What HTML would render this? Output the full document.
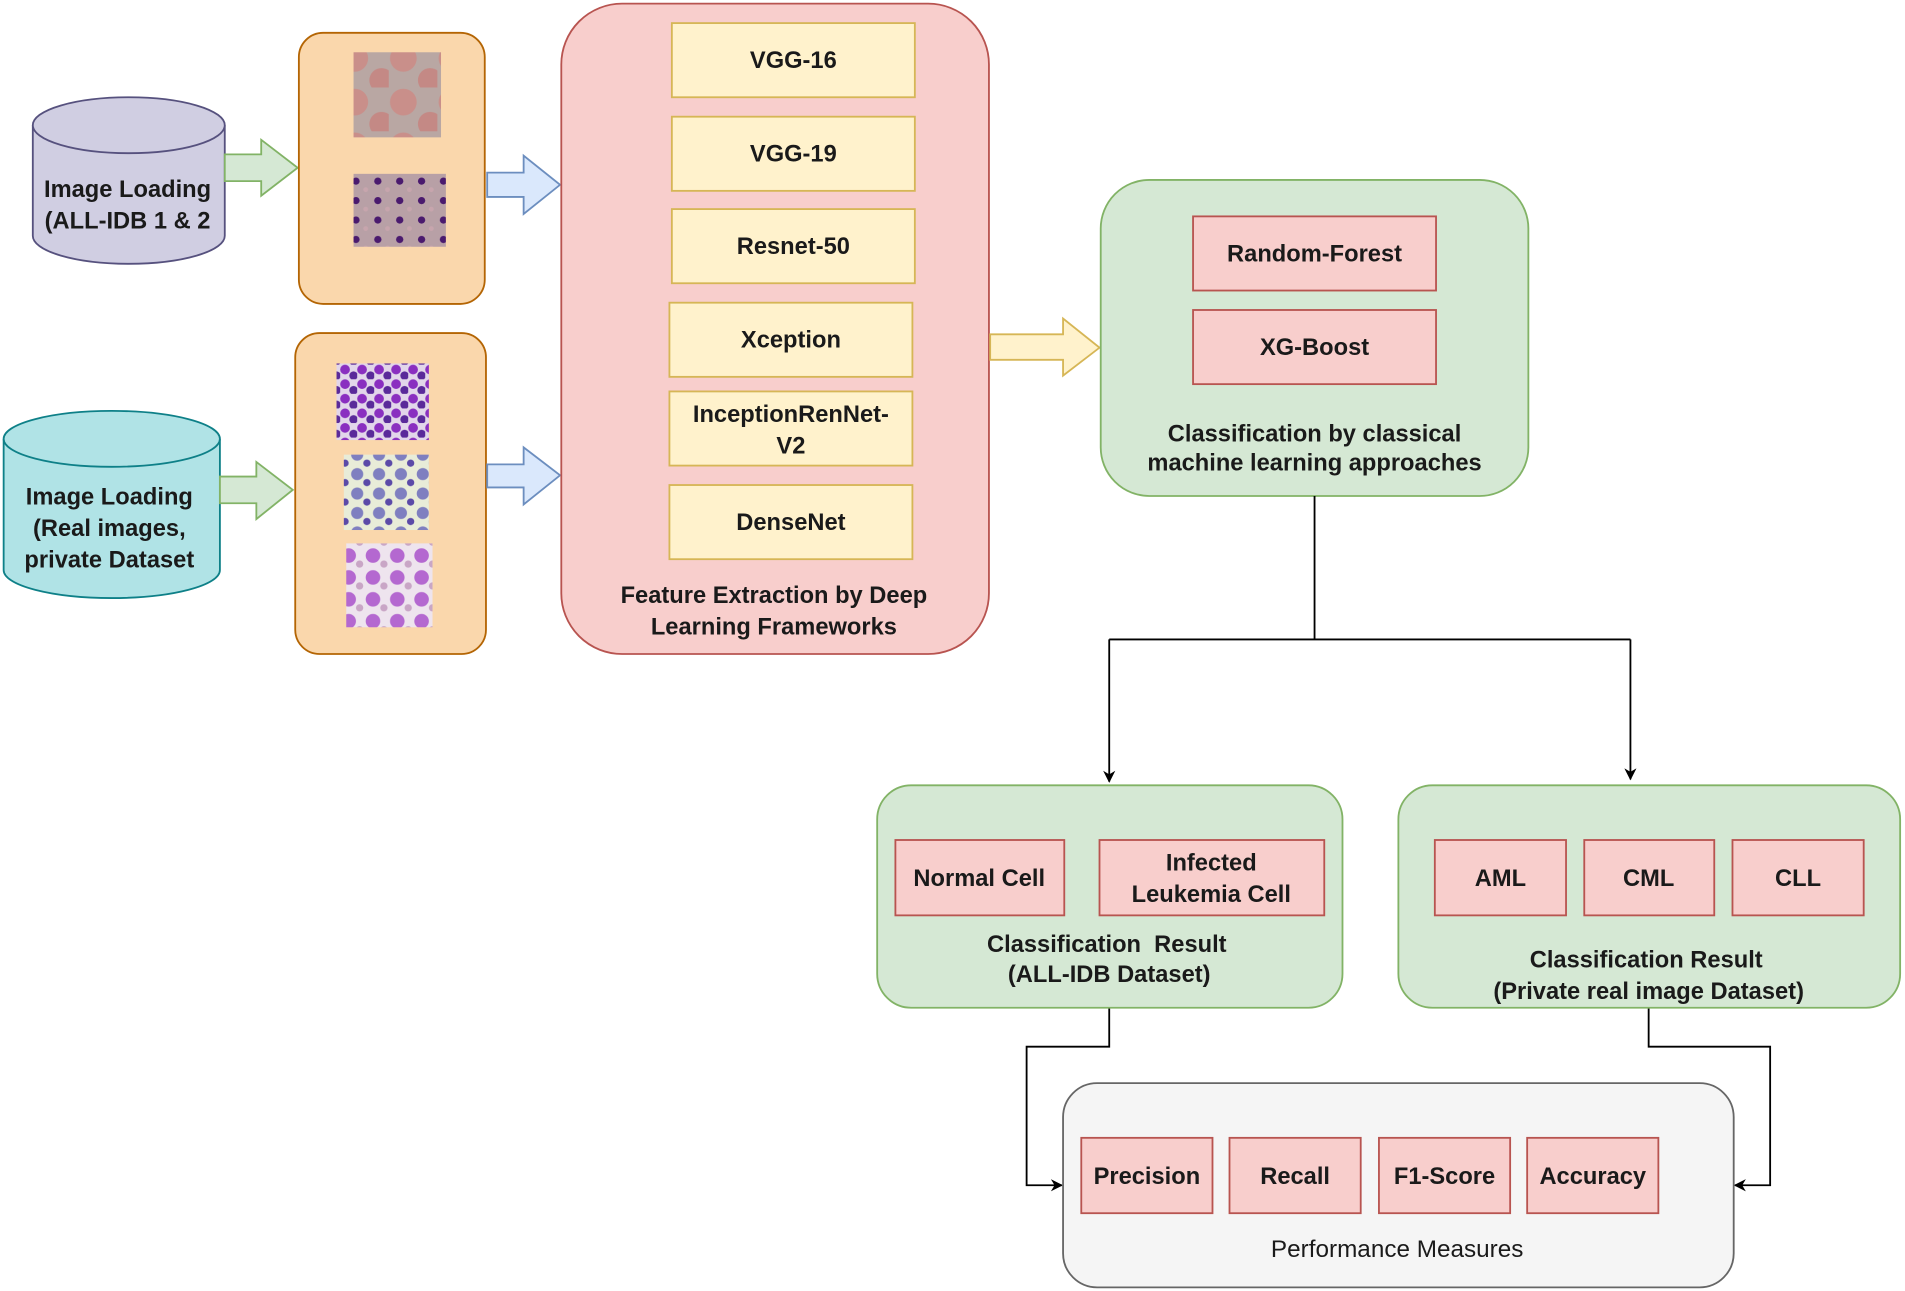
<!DOCTYPE html>
<html><head><meta charset="utf-8"><style>
html,body{margin:0;padding:0;background:#fff;}
svg{display:block;}
text{font-family:"Liberation Sans",Arial,sans-serif;font-size:19.5px;font-weight:bold;fill:#1a1a1a;text-anchor:middle;}
</style></head><body>
<svg width="1905" height="1291" viewBox="0 0 1568 1062" preserveAspectRatio="none" xmlns="http://www.w3.org/2000/svg">
<defs>
<marker id="ah" markerWidth="10" markerHeight="10" refX="9" refY="5" orient="auto" markerUnits="userSpaceOnUse">
<path d="M0,0 L10,5 L0,10 L3,5 Z" fill="#000"/></marker>
<pattern id="p1" width="40" height="36" patternUnits="userSpaceOnUse">
<rect width="40" height="36" fill="#b9a7a3"/><circle cx="12" cy="12" r="11" fill="#c98f8a"/><circle cx="34" cy="30" r="10" fill="#c48985"/></pattern>
<pattern id="p2" width="18" height="16" patternUnits="userSpaceOnUse">
<rect width="18" height="16" fill="#b8a0a6"/><circle cx="5" cy="5" r="3" fill="#4a1a6e"/><circle cx="13" cy="12" r="2" fill="#c7a5ad"/></pattern>
<pattern id="p3" width="14" height="12" patternUnits="userSpaceOnUse">
<rect width="14" height="12" fill="#e2d6ea"/><circle cx="4" cy="4" r="4" fill="#8a2fc0"/><circle cx="11" cy="9" r="3.5" fill="#5a2a9a"/></pattern>
<pattern id="p4" width="18" height="16" patternUnits="userSpaceOnUse">
<rect width="18" height="16" fill="#e8ecd8"/><circle cx="6" cy="6" r="5" fill="#7f7fc0"/><circle cx="14" cy="13" r="3" fill="#5b4aa8"/></pattern>
<pattern id="p5" width="20" height="18" patternUnits="userSpaceOnUse">
<rect width="20" height="18" fill="#eee4ee"/><circle cx="7" cy="7" r="6" fill="#b468d0"/><circle cx="16" cy="14" r="3" fill="#c9a6c6"/></pattern>
</defs>

<!-- cylinders -->
<g stroke="#56517e" stroke-width="1.5" fill="#d0cee2">
<path d="M27,103 L27,194 A79,23 0 0 0 185,194 L185,103"/>
<ellipse cx="106" cy="103" rx="79" ry="23"/>
</g>
<text x="105" y="162">Image Loading</text>
<text x="105" y="188">(ALL-IDB 1 &amp; 2</text>
<g stroke="#0e8088" stroke-width="1.5" fill="#b0e3e6">
<path d="M3,361 L3,469 A89,23 0 0 0 181,469 L181,361"/>
<ellipse cx="92" cy="361" rx="89" ry="23"/>
</g>
<text x="90" y="415">Image Loading</text>
<text x="90" y="441">(Real images,</text>
<text x="90" y="467">private Dataset</text>

<!-- green arrows -->
<g fill="#d5e8d4" stroke="#82b366" stroke-width="1.5">
<path d="M185,127 L215,127 L215,115 L245,138 L215,161 L215,149 L185,149 Z"/>
<path d="M181,392 L211,392 L211,380 L241,403 L211,427 L211,414 L181,414 Z"/>
</g>

<!-- orange boxes -->
<rect x="246" y="27" width="153" height="223" rx="20" fill="#fad7ac" stroke="#b46504" stroke-width="1.5"/>
<rect x="291" y="43" width="72" height="70" fill="url(#p1)"/>
<rect x="291" y="143" width="76" height="60" fill="url(#p2)"/>
<rect x="243" y="274" width="157" height="264" rx="20" fill="#fad7ac" stroke="#b46504" stroke-width="1.5"/>
<rect x="277" y="299" width="76" height="63" fill="url(#p3)"/>
<rect x="283" y="374" width="70" height="62" fill="url(#p4)"/>
<rect x="285" y="447" width="71" height="69" fill="url(#p5)"/>

<!-- blue arrows -->
<g fill="#dae8fc" stroke="#6c8ebf" stroke-width="1.5">
<path d="M401,142 L431,142 L431,128 L461,152 L431,176 L431,162 L401,162 Z"/>
<path d="M401,382 L431,382 L431,368 L461,391 L431,415 L431,401 L401,401 Z"/>
</g>

<!-- pink big -->
<rect x="462" y="3" width="352" height="535" rx="50" fill="#f8cecc" stroke="#b85450" stroke-width="1.5"/>
<g fill="#fff2cc" stroke="#d6b656" stroke-width="1.5">
<rect x="553" y="19" width="200" height="61"/>
<rect x="553" y="96" width="200" height="61"/>
<rect x="553" y="172" width="200" height="61"/>
<rect x="551" y="249" width="200" height="61"/>
<rect x="551" y="322" width="200" height="61"/>
<rect x="551" y="399" width="200" height="61"/>
</g>
<text x="653" y="56">VGG-16</text>
<text x="653" y="133">VGG-19</text>
<text x="653" y="209">Resnet-50</text>
<text x="651" y="286">Xception</text>
<text x="651" y="347">InceptionRenNet-</text>
<text x="651" y="373">V2</text>
<text x="651" y="436">DenseNet</text>
<text x="637" y="496">Feature Extraction by Deep</text>
<text x="637" y="522">Learning Frameworks</text>

<!-- yellow arrow -->
<path d="M815,275 L875,275 L875,262 L905,286 L875,309 L875,296 L815,296 Z" fill="#fff2cc" stroke="#d6b656" stroke-width="1.5"/>

<!-- classification green -->
<rect x="906" y="148" width="352" height="260" rx="40" fill="#d5e8d4" stroke="#82b366" stroke-width="1.5"/>
<g fill="#f8cecc" stroke="#b85450" stroke-width="1.5">
<rect x="982" y="178" width="200" height="61"/>
<rect x="982" y="255" width="200" height="61"/>
</g>
<text x="1082" y="215">Random-Forest</text>
<text x="1082" y="292">XG-Boost</text>
<text x="1082" y="363">Classification by classical</text>
<text x="1082" y="387">machine learning approaches</text>

<!-- connectors -->
<g stroke="#000" stroke-width="1.5" fill="none">
<path d="M1082,408 L1082,526 M913,526 L1342,526"/>
<path d="M913,526 L913,643" marker-end="url(#ah)"/>
<path d="M1342,526 L1342,641" marker-end="url(#ah)"/>
<path d="M913,829 L913,861 L845,861 L845,975 L874,975" marker-end="url(#ah)"/>
<path d="M1357,829 L1357,861 L1457,861 L1457,975 L1428,975" marker-end="url(#ah)"/>
</g>

<!-- result boxes -->
<rect x="722" y="646" width="383" height="183" rx="28" fill="#d5e8d4" stroke="#82b366" stroke-width="1.5"/>
<rect x="1151" y="646" width="413" height="183" rx="28" fill="#d5e8d4" stroke="#82b366" stroke-width="1.5"/>
<g fill="#f8cecc" stroke="#b85450" stroke-width="1.5">
<rect x="737" y="691" width="139" height="62"/>
<rect x="905" y="691" width="185" height="62"/>
<rect x="1181" y="691" width="108" height="62"/>
<rect x="1304" y="691" width="107" height="62"/>
<rect x="1426" y="691" width="108" height="62"/>
</g>
<text x="806" y="729">Normal Cell</text>
<text x="997" y="716">Infected</text>
<text x="997" y="742">Leukemia Cell</text>
<text x="1235" y="729">AML</text>
<text x="1357" y="729">CML</text>
<text x="1480" y="729">CLL</text>
<text x="911" y="783" xml:space="preserve">Classification  Result</text>
<text x="913" y="808">(ALL-IDB Dataset)</text>
<text x="1355" y="796">Classification Result</text>
<text x="1357" y="822">(Private real image Dataset)</text>

<!-- performance -->
<rect x="875" y="891" width="552" height="168" rx="28" fill="#f5f5f5" stroke="#666666" stroke-width="1.5"/>
<g fill="#f8cecc" stroke="#b85450" stroke-width="1.5">
<rect x="890" y="936" width="108" height="62"/>
<rect x="1012" y="936" width="108" height="62"/>
<rect x="1135" y="936" width="108" height="62"/>
<rect x="1257" y="936" width="108" height="62"/>
</g>
<text x="944" y="974">Precision</text>
<text x="1066" y="974">Recall</text>
<text x="1189" y="974">F1-Score</text>
<text x="1311" y="974">Accuracy</text>
<text x="1150" y="1034" style="font-weight:normal;font-size:20px">Performance Measures</text>
</svg>
</body></html>
